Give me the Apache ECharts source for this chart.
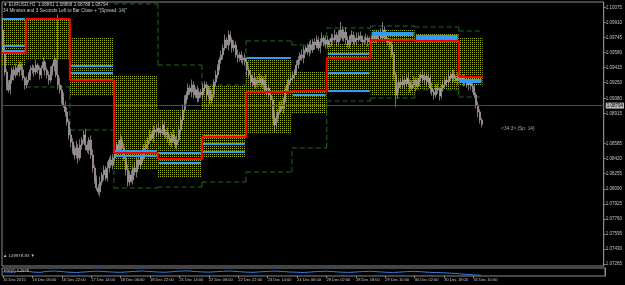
<!DOCTYPE html>
<html><head><meta charset="utf-8">
<script src="https://cdn.jsdelivr.net/npm/echarts@6/dist/echarts.min.js"></script>
<style>html,body{margin:0;padding:0;background:#000;}#c{width:625px;height:285px;}</style>
</head><body><div id="c"></div>
<script>
// ---------- data ----------
const symbolTitle = '\u25BC EURUSD,H1  1.08861 1.08868 1.08788 1.08794';
const timerText = '34 Minutes and 3 Seconds Left to Bar Close + "(Spread: 14)"';
const spreadText = '<34:3> (Sp: 14)';
const volumeLabel = '\u25B2 149878.83 \u25BC';
const firstOpen = 1.09827;
const closes = [
1.09608,1.09368,1.09226,1.09171,1.09280,1.09390,1.09335,1.09411,1.09368,1.09444,
1.09390,1.09302,1.09226,1.09280,1.09335,1.09390,1.09411,1.09368,1.09444,1.09390,
1.09335,1.09411,1.09477,1.09390,1.09335,1.09280,1.09368,1.09433,1.09499,1.09335,
1.09226,1.09171,1.09083,1.09007,1.08931,1.08821,1.08679,1.08603,1.08515,1.08460,
1.08537,1.08428,1.08570,1.08624,1.08679,1.08570,1.08515,1.08624,1.08460,1.08318,
1.08187,1.08100,1.08056,1.08165,1.08242,1.08296,1.08209,1.08318,1.08406,1.08351,
1.08428,1.08515,1.08570,1.08493,1.08624,1.08537,1.08428,1.08296,1.08165,1.08242,
1.08187,1.08318,1.08274,1.08406,1.08351,1.08460,1.08428,1.08537,1.08570,1.08624,
1.08679,1.08646,1.08734,1.08712,1.08755,1.08701,1.08734,1.08788,1.08679,1.08712,
1.08646,1.08603,1.08679,1.08624,1.08570,1.08624,1.08734,1.08843,1.08952,1.09062,
1.09116,1.09193,1.09149,1.09226,1.09116,1.09171,1.09083,1.09149,1.09116,1.09193,
1.09226,1.09116,1.09171,1.09062,1.09116,1.09258,1.09335,1.09411,1.09499,1.09554,
1.09630,1.09718,1.09663,1.09772,1.09718,1.09630,1.09663,1.09554,1.09521,1.09554,
1.09499,1.09521,1.09477,1.09390,1.09335,1.09258,1.09302,1.09226,1.09280,1.09258,
1.09302,1.09226,1.09280,1.09171,1.09193,1.09116,1.09062,1.08898,1.08788,1.08865,
1.08931,1.09007,1.08974,1.09062,1.09171,1.09226,1.09280,1.09302,1.09335,1.09368,
1.09444,1.09499,1.09554,1.09521,1.09608,1.09630,1.09586,1.09663,1.09608,1.09696,
1.09663,1.09718,1.09630,1.09696,1.09739,1.09674,1.09718,1.09663,1.09696,1.09739,
1.09718,1.09772,1.09696,1.09772,1.09827,1.09739,1.09805,1.09718,1.09663,1.09739,
1.09772,1.09696,1.09739,1.09718,1.09761,1.09739,1.09696,1.09718,1.09739,1.09696,
1.09718,1.09739,1.09772,1.09718,1.09761,1.09794,1.09739,1.09827,1.09772,1.09718,
1.09696,1.09663,1.09554,1.09335,1.09116,1.09193,1.09258,1.09226,1.09280,1.09237,
1.09302,1.09258,1.09193,1.09226,1.09280,1.09215,1.09258,1.09302,1.09335,1.09280,
1.09324,1.09258,1.09302,1.09193,1.09149,1.09116,1.09193,1.09171,1.09105,1.09193,
1.09226,1.09280,1.09258,1.09324,1.09302,1.09346,1.09302,1.09280,1.09324,1.09280,
1.09302,1.09258,1.09280,1.09226,1.09258,1.09215,1.09193,1.09116,1.09007,1.08931,
1.08843,1.08794];
// wick sizes in pips (0.0001)
const upWick = [
13,4,3,5,6,3,4,5,3,4, 3,5,2,4,3,5,4,3,6,2, 4,3,5,2,3,4,6,3,5,2,
66,8,5,6,4,5,3,6,4,5, 8,4,6,3,5,7,4,3,5,6, 3,5,4,6,3,5,4,7,3,5,
4,6,3,5,7,4,5,3,6,4, 5,3,6,4,5,3,7,4,5,3, 6,4,5,3,4,6,3,5,4,3,
5,4,3,6,4,5,3,4,6,5, 4,5,3,6,4,3,5,4,3,5, 4,3,5,4,6,3,5,4,3,5,
4,6,3,5,4,3,5,4,6,3, 4,3,5,4,3,5,4,6,3,4, 5,3,4,6,3,4,5,3,4,5,
3,4,5,3,4,6,3,5,4,3, 5,4,3,6,4,3,5,4,6,3, 4,5,3,4,6,3,5,4,3,5,
4,6,3,5,9,4,3,5,4,3, 5,4,3,6,4,5,3,4,5,3, 4,3,5,4,6,3,5,9,4,3,
3,4,5,3,4,6,3,4,5,3, 4,6,3,5,4,3,5,4,3,6, 4,3,5,4,6,3,4,5,3,4,
5,3,4,6,3,4,5,3,4,5, 3,4,5,3,4,3,5,4,3,4, 3,2];
const lowWick = [
5,4,6,3,5,4,6,3,4,5, 6,3,5,4,3,6,4,5,3,4, 5,4,3,6,4,5,3,4,6,3,
5,4,6,3,5,4,5,6,4,5, 4,6,3,5,4,6,3,5,4,5, 4,3,3,5,4,6,3,4,5,3,
5,4,3,6,4,5,3,6,5,4, 3,5,4,6,3,4,5,3,4,6, 4,3,5,4,6,3,4,5,3,4,
5,4,6,3,4,5,3,4,5,3, 4,5,3,6,4,3,5,4,3,5, 4,6,3,5,4,3,5,4,3,4,
5,3,4,6,3,5,4,3,5,4, 3,5,4,6,3,4,5,3,4,6, 4,3,5,4,6,3,4,5,8,4,
5,3,4,6,3,4,5,3,4,5, 3,4,5,3,6,4,3,5,4,3, 5,4,3,6,4,3,5,4,3,5,
4,3,5,4,6,3,4,5,3,4, 5,3,4,6,3,4,5,3,4,5, 3,4,5,3,4,6,3,4,5,3,
4,5,3,6,13,4,5,3,4,6, 3,4,5,3,4,6,3,5,4,3, 4,5,3,6,4,5,3,4,5,3,
4,3,5,4,3,6,4,3,5,4, 3,5,4,3,6,4,5,3,4,6, 4,3];

const totalSlots = 328;
const timeLabelStep = 16;
const timeLabels = ['15 Dec 2015','16 Dec 06:00','16 Dec 22:00','17 Dec 14:00','18 Dec 06:00','18 Dec 22:00',
 '21 Dec 14:00','22 Dec 06:00','22 Dec 22:00','23 Dec 14:00','24 Dec 06:00','28 Dec 02:00','28 Dec 18:00',
 '29 Dec 10:00','30 Dec 02:00','30 Dec 18:00','31 Dec 10:00'];
const priceTicks = [1.10075,1.09910,1.09745,1.09580,1.09415,1.09250,1.09080,1.08915,1.08585,1.08420,
 1.08255,1.08090,1.07925,1.07760,1.07595,1.07430,1.07265];
const priceMin = 1.07246, priceMax = 1.10133;

// daily profile blocks
const dayStart = [0,13,37,61,85,109,133,158,177,201,225,249];
const dayEnd   = [13,37,61,85,109,133,158,177,201,225,249,262];
const vaHigh = [1.09958,1.09958,1.09739,1.09335,1.08952,1.09226,1.09521,1.09368,1.09685,1.09827,1.09794,1.09739];
const vaLow  = [1.09444,1.09499,1.09116,1.08296,1.08209,1.08428,1.08701,1.08919,1.09149,1.09116,1.09171,1.09226];
const pocPrice = [1.09575,1.09947,1.09280,1.08482,1.08417,1.08657,1.09149,1.09160,1.09521,1.09718,1.09707,1.09313];
const rangeUpper = [null,null,null,1.10112,1.09444,1.09226,1.09707,1.09663,1.09849,1.09871,1.09860,1.09816];
const rangeLower = [null,1.09204,1.08734,1.08099,1.08110,1.08165,1.08274,1.08537,1.09050,1.09083,1.09171,1.09094];
const blueDay   = [0,0,0,1,2,2,3,3,4,4,5,5,5,6,7,7,8,8,8,9,9,10,10,10,11,11,11];
const bluePrice = [1.09947,1.09652,1.09597,1.09947,1.09433,1.09357,1.08504,1.08449,1.08482,1.08373,
 1.08668,1.08581,1.08493,1.09521,1.09160,1.09116,1.09564,1.09357,1.09160,1.09794,1.09772,
 1.09761,1.09739,1.09718,1.09313,1.09280,1.09258];
const levelLines = [1.09335,1.09258,1.09193];
const lowerLevel = 1.07309;
const lastPrice = 1.08794;
const spreadLabelSlot = 270;

const indicatorStep = 4;
const indicatorVals = [52,48,55,60,50,45,58,62,55,47,44,50,57,61,54,49,46,52,58,63,56,50,47,53,60,64,57,51,48,54,
 59,62,55,49,46,52,58,61,56,50,47,44,51,57,60,54,48,45,50,56,59,53,47,44,49,55,58,52,46,43,40,35,28,20,14,10];
const indicatorLabel = 'RSI(2) 0.2678';

// ---------- build ----------
const slots = [];
const bottomCats = [];
for (let i = 0; i < totalSlots; i++) {
  slots.push(String(i));
  const k = i / timeLabelStep;
  bottomCats.push(i % timeLabelStep === 0 && k < timeLabels.length ? timeLabels[k] : '');
}
const candles = closes.map((c, i) => {
  const o = i === 0 ? firstOpen : closes[i - 1];
  return [o, c, Math.min(o, c) - lowWick[i] * 0.0001, Math.max(o, c) + upWick[i] * 0.0001];
});
const vaData = dayStart.map((s, d) => [s, dayEnd[d], vaHigh[d], vaLow[d]]);
const pocData = dayStart.map((s, d) => [s, dayEnd[d], pocPrice[d], d + 1 < pocPrice.length ? pocPrice[d + 1] : NaN]);
const upperData = [], lowerData = [];
dayStart.forEach((s, d) => {
  if (rangeUpper[d] != null) upperData.push([s, dayEnd[d], rangeUpper[d], d + 1 < rangeUpper.length && rangeUpper[d + 1] != null ? rangeUpper[d + 1] : NaN]);
  if (rangeLower[d] != null) lowerData.push([s, dayEnd[d], rangeLower[d], d + 1 < rangeLower.length && rangeLower[d + 1] != null ? rangeLower[d + 1] : NaN]);
});
const blueData = blueDay.map((d, k) => [dayStart[d], dayEnd[d], bluePrice[k]]);
const indData = indicatorVals.map((v, k) => [k * indicatorStep, v]);

// dotted pattern
const pc = document.createElement('canvas');
pc.width = 2; pc.height = 2;
const pctx = pc.getContext('2d');
pctx.fillStyle = '#a3b122';
pctx.fillRect(0, 0, 1, 1);
const dotPattern = { image: pc, repeat: 'repeat' };

function edge(api, idx, val) {
  const p = api.coord([idx, val]);
  return [p[0] - api.size([1, 0])[0] / 2, p[1]];
}
function stepRenderer(color, width, dash) {
  return function (params, api) {
    const a = edge(api, api.value(0), api.value(2));
    const b = edge(api, api.value(1), api.value(2));
    const children = [{ type: 'line', shape: { x1: a[0], y1: a[1], x2: b[0], y2: b[1] },
      style: { stroke: color, lineWidth: width, lineDash: dash } }];
    const nv = api.value(3);
    if (!isNaN(nv)) {
      const c = edge(api, api.value(1), nv);
      children.push({ type: 'line', shape: { x1: b[0], y1: b[1], x2: c[0], y2: c[1] },
        style: { stroke: color, lineWidth: width, lineDash: dash } });
    }
    return { type: 'group', children };
  };
}

const chart = echarts.init(document.getElementById('c'), null, { renderer: 'canvas' });
const textColor = '#c4c4c4';
chart.setOption({
  backgroundColor: '#000000',
  animation: false,
  grid: [
    { left: 2, top: 2, width: 603, height: 264, show: true, borderColor: '#8a8a8a', borderWidth: 1 },
    { left: 2, top: 268, width: 603, height: 8, show: true, borderColor: '#8a8a8a', borderWidth: 1 }
  ],
  xAxis: [
    { type: 'category', gridIndex: 0, data: slots, boundaryGap: true,
      axisLine: { show: false }, axisTick: { show: false }, axisLabel: { show: false }, splitLine: { show: false } },
    { type: 'category', gridIndex: 1, data: bottomCats, boundaryGap: true,
      axisLine: { show: false },
      axisTick: { show: true, alignWithLabel: true, length: 2, lineStyle: { color: '#8a8a8a' },
        interval: (i, v) => v !== '' },
      axisLabel: { show: true, interval: (i, v) => v !== '', align: 'left', margin: 2,
        fontSize: 4, color: textColor, fontFamily: 'Liberation Sans' },
      splitLine: { show: false } }
  ],
  yAxis: [
    { type: 'value', gridIndex: 0, position: 'right', min: priceMin, max: priceMax, scale: true,
      axisLine: { show: true, lineStyle: { color: '#8a8a8a' } },
      axisTick: { show: true, length: 2, customValues: priceTicks, lineStyle: { color: '#8a8a8a' } },
      axisLabel: { show: true, customValues: priceTicks, formatter: v => v.toFixed(5), margin: 2,
        fontSize: 4.5, color: textColor, fontFamily: 'Liberation Sans' },
      splitLine: { show: false } },
    { type: 'value', gridIndex: 1, position: 'right', min: 0, max: 100,
      axisLine: { show: true, lineStyle: { color: '#8a8a8a' } }, axisTick: { show: false },
      axisLabel: { show: false }, splitLine: { show: false } }
  ],
  series: [
    { type: 'custom', name: 'va', xAxisIndex: 0, yAxisIndex: 0, z: 1, silent: true,
      data: vaData, encode: { x: [0, 1], y: [2, 3] },
      renderItem: (params, api) => {
        const a = edge(api, api.value(0), api.value(2));
        const b = edge(api, api.value(1), api.value(3));
        return { type: 'rect', shape: { x: a[0], y: a[1], width: b[0] - a[0], height: b[1] - a[1] },
          style: { fill: dotPattern } };
      } },
    { type: 'custom', name: 'upper', z: 2, silent: true, data: upperData, encode: { x: [0, 1], y: [2] },
      renderItem: stepRenderer('#1f6b1f', 1, [5, 3]) },
    { type: 'custom', name: 'lower', z: 2, silent: true, data: lowerData, encode: { x: [0, 1], y: [2] },
      renderItem: stepRenderer('#1f6b1f', 1, [5, 3]) },
    { type: 'candlestick', name: 'EURUSD', xAxisIndex: 0, yAxisIndex: 0, z: 3, data: candles,
      barWidth: 1.5,
      itemStyle: { color: '#9a9a9a', color0: '#ee8296', borderColor: '#a6a6a6', borderColor0: '#a6a6a6', borderWidth: 0.7 },
      markLine: { silent: true, symbol: ['none', 'none'], animation: false,
        data: [
          ...levelLines.map(v => ({ yAxis: v, lineStyle: { color: '#2a5d5a', width: 1, type: [4, 2, 1, 2] }, label: { show: false } })),
          { yAxis: lowerLevel, lineStyle: { color: '#3f7777', width: 1, type: [4, 3] }, label: { show: false } },
          { yAxis: lastPrice, lineStyle: { color: '#4a4a55', width: 1, type: 'solid' },
            label: { show: true, position: 'end', formatter: lastPrice.toFixed(5), fontSize: 4.5, color: '#000',
              backgroundColor: '#b8b8b8', padding: [1, 1, 0, 1], distance: 2, fontFamily: 'Liberation Sans' } }
        ] },
      markPoint: { silent: true, symbolSize: 0,
        data: [{ coord: [spreadLabelSlot, lastPrice], label: { show: true, formatter: spreadText, position: 'right',
          offset: [-2, 4], fontSize: 4.8, color: '#a8a8a8', fontFamily: 'Liberation Sans' } }] } },
    { type: 'custom', name: 'blue', z: 4, silent: true, data: blueData, encode: { x: [0, 1], y: [2] },
      renderItem: (params, api) => {
        const a = edge(api, api.value(0), api.value(2));
        const b = edge(api, api.value(1), api.value(2));
        return { type: 'line', shape: { x1: a[0] + 1, y1: a[1], x2: b[0] - 1, y2: b[1] },
          style: { stroke: '#2f9bff', lineWidth: 2 } };
      } },
    { type: 'custom', name: 'poc', z: 5, silent: true, data: pocData, encode: { x: [0, 1], y: [2] },
      renderItem: stepRenderer('#ff0000', 2, null) },
    { type: 'line', name: 'ind', xAxisIndex: 1, yAxisIndex: 1, data: indData, showSymbol: false,
      lineStyle: { color: '#2f7fe0', width: 1 }, z: 3 }
  ],
  graphic: [
    { type: 'text', left: 3, top: 2, z: 10, style: { text: symbolTitle, fill: '#c8c8c8', fontSize: 4.6, fontFamily: 'Liberation Sans' } },
    { type: 'text', left: 3, top: 8, z: 10, style: { text: timerText, fill: '#c8c8c8', fontSize: 4.6, fontFamily: 'Liberation Sans' } },
    { type: 'text', left: 3, top: 254, z: 10, style: { text: volumeLabel, fill: '#c8c8c8', fontSize: 4.4, fontFamily: 'Liberation Sans' } },
    { type: 'text', left: 4, top: 268.5, z: 10, style: { text: indicatorLabel, fill: '#c8c8c8', fontSize: 4, fontFamily: 'Liberation Sans' } }
  ]
});
</script></body></html>
